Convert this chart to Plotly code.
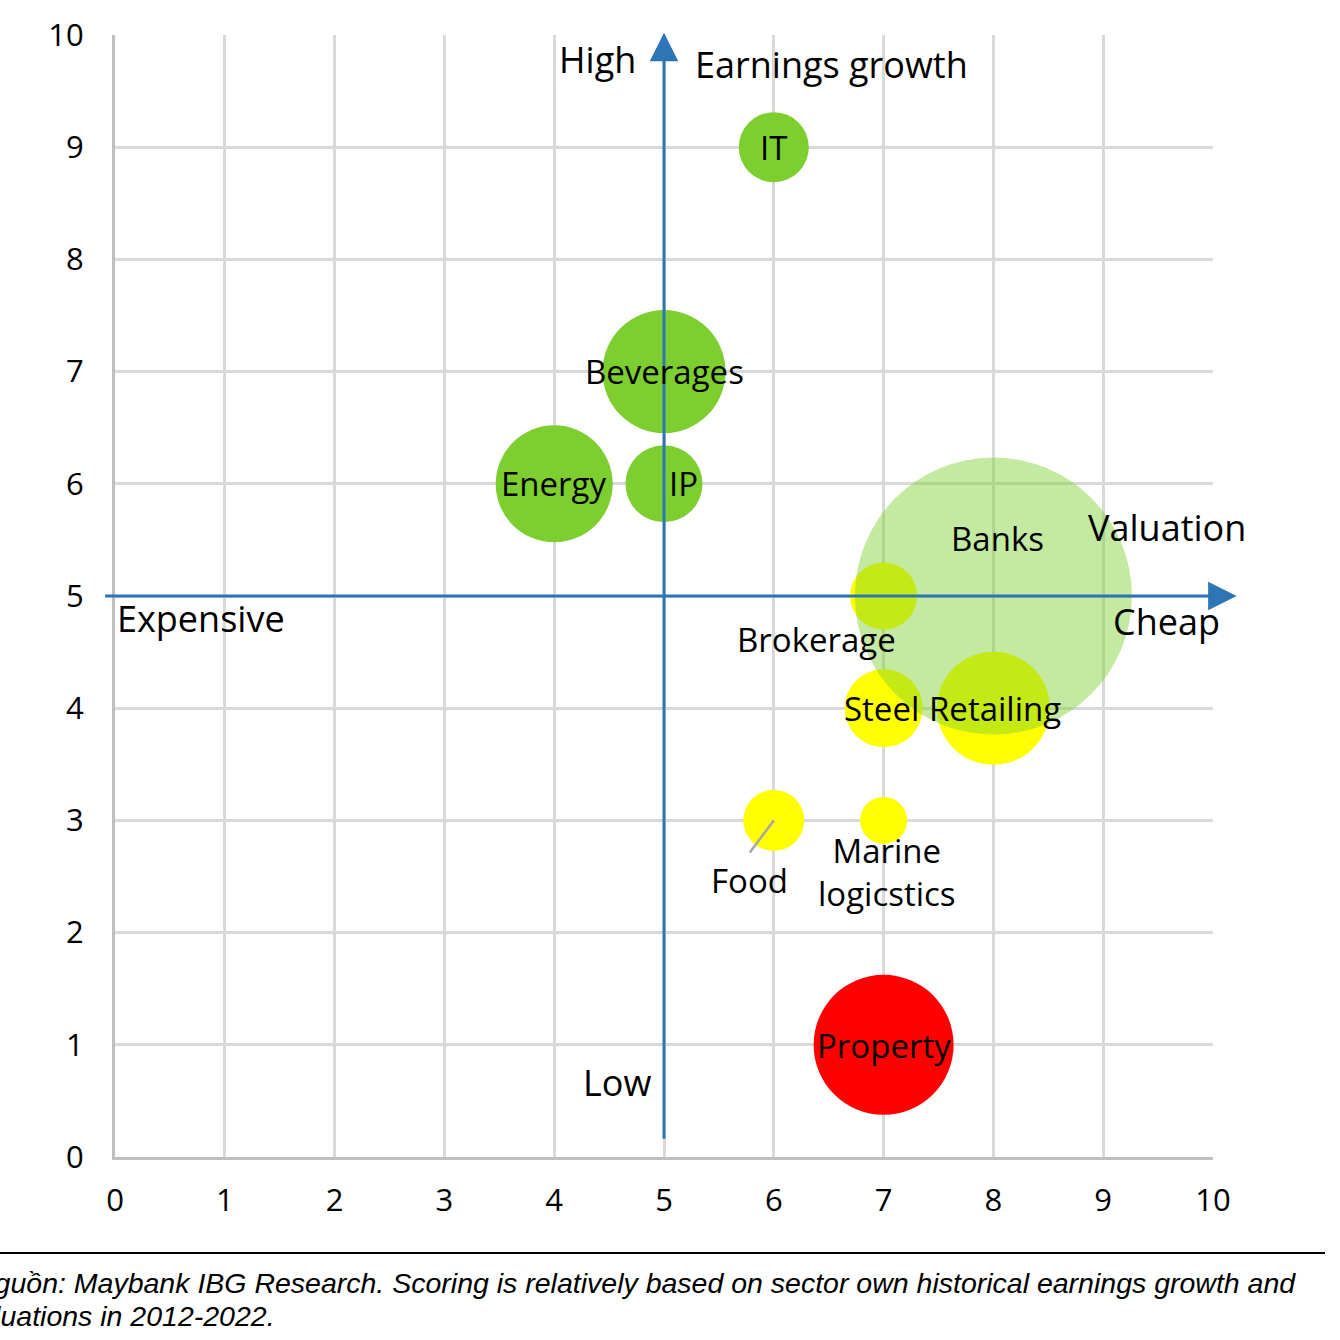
import plotly.graph_objects as go

# ---- data ----
sectors = ["IT", "Beverages", "Energy", "IP", "Brokerage", "Steel", "Retailing",
           "Food", "Marine<br>logicstics", "Property", "Banks"]
valuation = [6, 5, 4, 5, 7, 7, 8, 6, 7, 7, 8]
earnings = [9, 7, 6, 6, 5, 4, 4, 3, 3, 1, 5]
bubble_size = [70, 123, 117, 77, 67, 78, 113, 61, 47, 140, 277]
group = ["green", "green", "green", "green", "yellow", "yellow", "yellow",
         "yellow", "yellow", "red", "banks"]
x_ticks = list(range(0, 11))
y_ticks = list(range(0, 11))

# label offsets in pixels (style only)
label_shift = {
    "IT": (0, 0), "Beverages": (0, 0), "Energy": (0, 0), "IP": (19, 0),
    "Brokerage": (-67, -43), "Steel": (-2, 0), "Retailing": (2, 0),
    "Food": (-24, -60), "Marine<br>logicstics": (3, -52), "Property": (0, -1),
    "Banks": (4, 58),
}

GREEN = "#7DCE2F"
YELLOW = "#FFFF00"
RED = "#FF0000"
BLUE = "#2E75B6"
FONT = "Open Sans"

W, H = 1340, 1340
L, T, PW, PH = 115, 35, 1098, 1122

fig = go.Figure()

order = ["green", "yellow", "red", "banks"]
colors = {"green": GREEN, "yellow": YELLOW, "red": RED, "banks": GREEN}
opac = {"green": 1, "yellow": 1, "red": 1, "banks": 0.45}
for g in order:
    idx = [i for i, gg in enumerate(group) if gg == g]
    fig.add_trace(go.Scatter(
        x=[valuation[i] for i in idx],
        y=[earnings[i] for i in idx],
        mode="markers",
        marker=dict(size=[bubble_size[i] for i in idx], sizemode="diameter", sizeref=1,
                    color=colors[g], opacity=opac[g], line=dict(width=0)),
        hoverinfo="skip", showlegend=False, cliponaxis=False,
    ))

# quadrant arrows
fig.add_annotation(x=5, y=10.02, ax=5, ay=0.15, xref="x", yref="y", axref="x", ayref="y",
                   showarrow=True, arrowhead=2, arrowsize=1.9, arrowwidth=3,
                   arrowcolor=BLUE, text="")
fig.add_annotation(x=1.0215, y=5, ax=-1133, ay=0, xref="paper", yref="y",
                   showarrow=True, arrowhead=2, arrowsize=1.9, arrowwidth=3,
                   arrowcolor=BLUE, text="")

# Food leader line
fi = sectors.index("Food")
fig.add_shape(type="line", xref="x", yref="y", xsizemode="pixel", ysizemode="pixel",
              xanchor=valuation[fi], yanchor=earnings[fi], x0=0, y0=0, x1=-24, y1=-32,
              line=dict(color="#A6A6A6", width=2.5))

# bubble labels
for i, s in enumerate(sectors):
    dx, dy = label_shift[s]
    fig.add_annotation(x=valuation[i], y=earnings[i], text=s, showarrow=False,
                       xshift=dx, yshift=dy, font=dict(family=FONT, size=33, color="black"))

# quadrant texts
qfont = dict(family=FONT, size=36, color="black")
fig.add_annotation(x=4.39, y=9.78, text="High", showarrow=False, xanchor="center", font=qfont)
fig.add_annotation(x=5.26, y=9.74, text="Earnings growth", showarrow=False, xanchor="left", font=qfont)
fig.add_annotation(x=8.84, y=5.61, text="Valuation", showarrow=False, xanchor="left", font=qfont)
fig.add_annotation(x=9.58, y=4.77, text="Cheap", showarrow=False, xanchor="center", font=qfont)
fig.add_annotation(x=0.0, y=4.80, text="Expensive", showarrow=False, xanchor="left", font=qfont)
fig.add_annotation(x=4.57, y=0.66, text="Low", showarrow=False, xanchor="center", font=qfont)

# caption and rule
def px_x(p):
    return (p - L) / PW


def px_y(p):
    return 1 - (p - T) / PH


fig.add_shape(type="line", xref="paper", yref="paper", x0=px_x(0), x1=px_x(1325),
              y0=px_y(1253), y1=px_y(1253), line=dict(color="black", width=2))
cfont = dict(family="Liberation Sans", size=28.5, color="black")
fig.add_annotation(xref="paper", yref="paper", x=px_x(-28), y=px_y(1283), xanchor="left",
                   yanchor="middle", showarrow=False, align="left",
                   text="<i>Nguồn: Maybank IBG Research. Scoring is relatively based on sector own historical earnings growth and</i>",
                   font=cfont)
fig.add_annotation(xref="paper", yref="paper", x=px_x(-38), y=px_y(1316), xanchor="left",
                   yanchor="middle", showarrow=False, align="left",
                   text="<i>valuations in 2012-2022.</i>", font=cfont)

fig.update_xaxes(range=[0, 10], tickvals=x_ticks, showgrid=True, gridcolor="#D9D9D9",
                 gridwidth=3, zeroline=False, showline=True, linecolor="#BFBFBF", linewidth=3,
                 ticks="", ticklabelstandoff=14,
                 tickfont=dict(family=FONT, size=31, color="black"), fixedrange=True)
fig.update_yaxes(range=[0, 10], tickvals=y_ticks, showgrid=True, gridcolor="#D9D9D9",
                 gridwidth=3, zeroline=False, showline=True, linecolor="#BFBFBF", linewidth=3,
                 ticks="", ticklabelstandoff=22,
                 tickfont=dict(family=FONT, size=31, color="black"), fixedrange=True)

fig.update_layout(width=W, height=H, margin=dict(l=L, r=W - L - PW, t=T, b=H - T - PH),
                  plot_bgcolor="white", paper_bgcolor="white", showlegend=False)

fig.write_html("out.html", config={"displayModeBar": False},
               post_script="document.body.style.margin='0';document.body.style.overflow='hidden';")
